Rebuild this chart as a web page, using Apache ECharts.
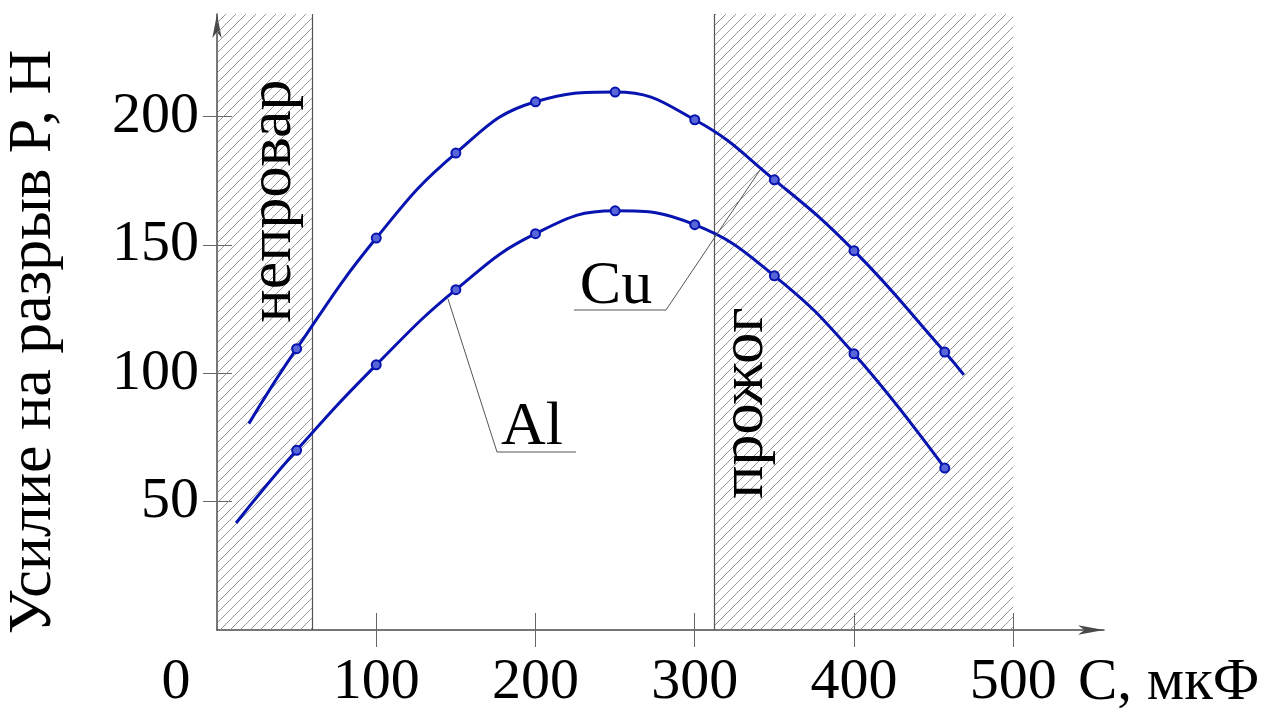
<!DOCTYPE html>
<html>
<head>
<meta charset="utf-8">
<script src="https://cdn.jsdelivr.net/npm/echarts@6/dist/echarts.min.js"></script>
<style>
html,body{margin:0;padding:0;background:#fff;}
#chart{width:1281px;height:713px;}
</style>
</head>
<body>
<div id="chart"></div>
<script>
// ---- data ----
const measuredX = [50, 100, 150, 200, 250, 300, 350, 400, 457];
const cuY = [109.6, 152.7, 185.8, 205.8, 209.6, 198.8, 175.4, 147.8, 108.3];
const alY = [70.0, 103.3, 132.6, 154.4, 163.3, 157.9, 138.0, 107.6, 63.1];
// curve extensions (no markers)
const cuStart = [20, 80.4];
const cuEnd = [469, 99.4];
const alStart = [12, 41.7];
// zones
const underweldZone = [0, 60];     // непровар
const burnZone = [312, 500];       // прожог
// ticks
const xTickValues = [100, 200, 300, 400, 500];
const yTickValues = [50, 100, 150, 200];
const xMax = 557, yMax = 240;
const labels = {
  yTitle: 'Усилие на разрыв P, Н',
  xTitle: 'C, мкФ',
  origin: '0',
  underweld: 'непровар',
  burn: 'прожог',
  cu: 'Cu',
  al: 'Al'
};

function hatch() {
  const c = document.createElement('canvas');
  c.width = 10; c.height = 10;
  const g = c.getContext('2d');
  g.strokeStyle = '#8c8c8c';
  g.lineWidth = 0.9;
  g.beginPath();
  g.moveTo(0, 10); g.lineTo(10, 0);
  g.moveTo(-1, 1); g.lineTo(1, -1);
  g.moveTo(9, 11); g.lineTo(11, 9);
  g.stroke();
  return c;
}

function buildSeries(xs, ys, start, end) {
  const d = [];
  if (start) d.push({ value: start, symbol: 'none' });
  xs.forEach((x, i) => d.push({ value: [x, ys[i]] }));
  if (end) d.push({ value: end, symbol: 'none' });
  return d;
}

const FONT = 'Liberation Serif';
const BLUE = '#0814b0';
const AXIS = '#4a4a4a';

const chart = echarts.init(document.getElementById('chart'), null, { renderer: 'canvas' });
const pattern = { image: hatch(), repeat: 'repeat' };

const lineSeries = (name, data, withZones) => {
  const s = {
    name, type: 'line', data,
    xAxisIndex: 0, yAxisIndex: 0,
    smooth: 0.45,
    symbol: 'circle', symbolSize: 9,
    lineStyle: { color: BLUE, width: 3 },
    itemStyle: { color: '#5866d8', borderColor: BLUE, borderWidth: 2 },
    z: 5
  };
  if (withZones) {
    s.markArea = {
      silent: true,
      itemStyle: { color: pattern, opacity: 1, borderWidth: 0 },
      data: [
        [{ xAxis: underweldZone[0], yAxis: 0 }, { xAxis: underweldZone[1], yAxis: yMax }],
        [{ xAxis: burnZone[0], yAxis: 0 }, { xAxis: burnZone[1], yAxis: yMax }]
      ]
    };
    s.markLine = {
      silent: true, symbol: 'none',
      label: { show: false },
      lineStyle: { color: '#555', width: 1.2, type: 'solid' },
      data: [{ xAxis: underweldZone[1] }, { xAxis: burnZone[0] }]
    };
  }
  return s;
};

const option = {
  animation: false,
  backgroundColor: '#fff',
  grid: { left: 217, top: 14, width: 887, height: 616, containLabel: false },
  xAxis: [
    {
      type: 'value', min: 0, max: xMax, position: 'bottom',
      axisLine: { show: true, lineStyle: { color: AXIS, width: 1.5 }, symbol: ['none', 'arrow'], symbolSize: [7, 26] },
      axisTick: { show: true, inside: false, length: 17, customValues: xTickValues, lineStyle: { color: '#666', width: 1 } },
      axisLabel: { show: true, customValues: xTickValues, margin: 24, color: '#000', fontFamily: FONT, fontSize: 58 },
      splitLine: { show: false }
    },
    {
      type: 'value', min: 0, max: xMax, position: 'bottom',
      axisLine: { show: false },
      axisTick: { show: true, inside: true, length: 17, customValues: xTickValues, lineStyle: { color: '#666', width: 1 } },
      axisLabel: { show: false },
      splitLine: { show: false }
    }
  ],
  yAxis: [
    {
      type: 'value', min: 0, max: yMax, position: 'left',
      axisLine: { show: true, lineStyle: { color: AXIS, width: 1.5 }, symbol: ['none', 'arrow'], symbolSize: [7, 24] },
      axisTick: { show: true, inside: false, length: 14, customValues: yTickValues, lineStyle: { color: '#666', width: 1 } },
      axisLabel: { show: true, customValues: yTickValues, margin: 18, color: '#000', fontFamily: FONT, fontSize: 58 },
      splitLine: { show: false }
    },
    {
      type: 'value', min: 0, max: yMax, position: 'left',
      axisLine: { show: false },
      axisTick: { show: true, inside: true, length: 15, customValues: yTickValues, lineStyle: { color: '#666', width: 1 } },
      axisLabel: { show: false },
      splitLine: { show: false }
    }
  ],
  series: [
    lineSeries('Cu', buildSeries(measuredX, cuY, cuStart, cuEnd), true),
    lineSeries('Al', buildSeries(measuredX, alY, alStart, null), false)
  ],
  graphic: [
    { type: 'text', x: 34, y: 342, rotation: Math.PI / 2,
      style: { text: labels.yTitle, fontFamily: FONT, fontSize: 62, fill: '#000', align: 'center', verticalAlign: 'middle' } },
    { type: 'text', x: 176, y: 683,
      style: { text: labels.origin, fontFamily: FONT, fontSize: 58, fill: '#000', align: 'center', verticalAlign: 'middle' } },
    { type: 'text', x: 1078, y: 683,
      style: { text: labels.xTitle, fontFamily: FONT, fontSize: 59, fill: '#000', align: 'left', verticalAlign: 'middle' } },
    { type: 'text', x: 274, y: 201, rotation: Math.PI / 2, z: 10,
      style: { text: labels.underweld, fontFamily: FONT, fontSize: 62, fill: '#000', align: 'center', verticalAlign: 'middle' } },
    { type: 'text', x: 746, y: 403, rotation: Math.PI / 2, z: 10,
      style: { text: labels.burn, fontFamily: FONT, fontSize: 62, fill: '#000', align: 'center', verticalAlign: 'middle' } },
    { type: 'text', x: 616, y: 287, z: 10,
      style: { text: labels.cu, fontFamily: FONT, fontSize: 62, fill: '#000', align: 'center', verticalAlign: 'middle' } },
    { type: 'text', x: 532, y: 428, z: 10,
      style: { text: labels.al, fontFamily: FONT, fontSize: 62, fill: '#000', align: 'center', verticalAlign: 'middle' } },
    { type: 'polyline', z: 10, shape: { points: [[574, 310], [666, 310], [760, 170]] },
      style: { stroke: '#555', lineWidth: 1, fill: null } },
    { type: 'polyline', z: 10, shape: { points: [[576, 452], [497, 452], [448, 299]] },
      style: { stroke: '#555', lineWidth: 1, fill: null } }
  ]
};
chart.setOption(option);
</script>
</body>
</html>
